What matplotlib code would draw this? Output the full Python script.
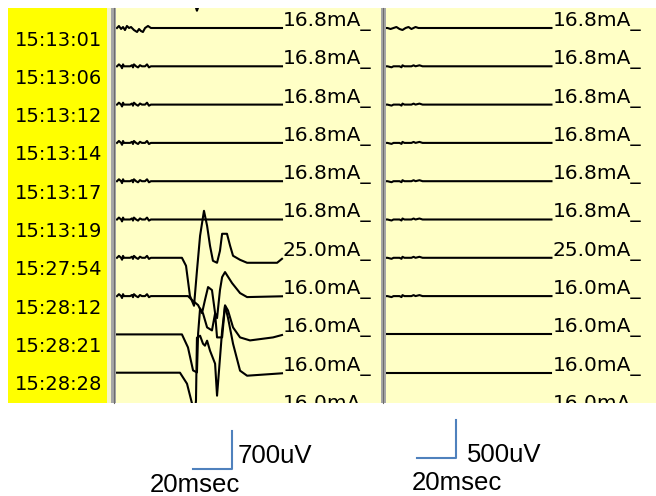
import matplotlib
matplotlib.use("Agg")
import matplotlib.pyplot as plt
from matplotlib.patches import Rectangle

W, H = 656, 496

# one row per sweep, top sweep sits mostly above the window
times = ["15:12:56", "15:13:01", "15:13:06", "15:13:12", "15:13:14", "15:13:17",
         "15:13:19", "15:27:54", "15:28:12", "15:28:21", "15:28:28"]
currents = ["16.8", "16.8", "16.8", "16.8", "16.8", "16.8", "16.8",
            "25.0", "16.0", "16.0", "16.0", "16.0"]

step_left = 700    # uV between sweeps, left channel
step_right = 500   # uV between sweeps, right channel
sweep_end = 85.1   # ms
label_t = 85.6     # ms

# stimulus artefact at sweep start (ms, uV)
wig_t = [0.5, 1.5, 2.6, 3.1, 3.6, 4.1, 7.2, 8.2, 8.7, 9.2, 10.3, 11.3, 12.3, 13.3, 14.9, 15.9, 16.9, 17.9, 19.0]
wig_v = [0, 35, 0, -35, 35, 0, 0, 20, -20, 35, 0, -20, 20, 0, 0, 35, -20, 0, 0]
wave_t = [0.5, 1.5, 2.6, 3.6, 4.6, 5.6, 6.7, 7.7, 9.2, 10.8, 11.8, 12.8, 13.8, 14.9, 16.4, 17.9, 19.0]
wave_v = [0, 37, -18, 18, -37, 37, 0, 18, -37, -73, -18, -55, -73, 0, 37, 0, 0]

wig_r_t = [1.0, 3.1, 4.1, 7.2, 8.2, 8.7, 9.7, 13.3, 14.4, 15.4, 17.4, 19.0]
wig_r_v = [0, -13, 0, 0, -13, 13, 0, 0, 13, 0, 13, 0]
wave_r_t = [1.0, 2.6, 4.1, 5.6, 7.2, 8.7, 10.3, 11.8, 13.3, 15.4, 16.9, 20.0]
wave_r_v = [0, -13, 0, 13, -13, -26, 0, 13, -13, 13, 0, 0]

# left channel responses (ms, uV from baseline)
resp0_t = [37.9, 40.5, 41.5, 42.6, 44.6]
resp0_v = [0, -274, -384, -274, 0]
resp7_t = [33.8, 35.9, 37.9, 40.0, 41.5, 43.1, 45.1, 46.7, 48.2, 49.7, 51.8, 53.3, 54.4, 56.9, 58.5, 60.0, 63.6, 67.2, 82.6]
resp7_v = [0, -146, -695, -877, -238, 402, 859, 585, 219, -55, -91, 128, 439, 439, 219, 37, -37, -91, -91]
resp8_t = [36.9, 39.0, 42.1, 44.1, 45.6, 47.2, 49.2, 50.8, 51.8, 53.3, 54.4, 55.9, 59.5, 63.6, 67.2]
resp8_v = [0, -73, -165, -311, -73, 165, 110, -311, -402, 110, 347, 439, 238, 55, -18]
resp9_t = [33.8, 36.9, 39.5, 41.5, 42.1, 43.1, 44.6, 46.7, 49.2, 50.8, 51.8, 54.4, 55.9, 57.4, 60.0, 63.6, 68.7, 80.5]
resp9_v = [0, -238, -658, -695, 18, 475, 384, 128, 73, 384, -55, -55, 530, 439, 128, -55, -110, -55]
resp10_t = [32.8, 36.4, 39.0, 40.0, 41.0, 41.5, 43.1, 44.6, 45.6, 46.7, 48.2, 50.8, 51.8, 52.8, 54.4, 55.9, 57.4, 60.0, 63.6, 67.2]
resp10_v = [0, -201, -567, -877, -512, 640, 676, 530, 494, 585, 402, 165, -420, 37, 768, 1225, 1005, 530, 37, -55]

left_start = {1: (wave_t, wave_v)}
for k in range(2, 9):
    left_start[k] = (wig_t, wig_v)
right_start = {1: (wave_r_t, wave_r_v)}
for k in range(2, 9):
    right_start[k] = (wig_r_t, wig_r_v)
left_resp = {0: (resp0_t, resp0_v), 7: (resp7_t, resp7_v), 8: (resp8_t, resp8_v),
             9: (resp9_t, resp9_v), 10: (resp10_t, resp10_v)}


def frac(x0, y0, x1, y1):
    return [x0 / W, 1 - y1 / H, (x1 - x0) / W, (y1 - y0) / H]


def sweep(start, resp):
    t, v = [0.5], [0]
    if start:
        t += start[0]
        v += start[1]
    if resp:
        t += resp[0]
        v += resp[1]
    t.append(sweep_end)
    v.append(v[-1] * 0.2)
    return t, v


fig = plt.figure(figsize=(W / 100, H / 100), dpi=100)
fig.patch.set_facecolor("white")

bg = fig.add_axes([0, 0, 1, 1])
bg.set_xlim(0, W)
bg.set_ylim(H, 0)
bg.axis("off")
# window frame: pale margin, gray splitter bars
bg.add_patch(Rectangle((107, 8), 4, 395, color="#F4F4C8", lw=0))
bg.add_patch(Rectangle((111, 8), 5, 395, color="#A6A6A6", lw=0))
bg.plot([113.5, 113.5], [8, 403], color="#6C6C6C", lw=0.8)
bg.add_patch(Rectangle((380.5, 8), 5, 395, color="#A6A6A6", lw=0))
bg.plot([383, 383], [8, 403], color="#6C6C6C", lw=0.8)

panel = "#FFFFC6"
axL = fig.add_axes(frac(116, 8, 380.5, 403))
axR = fig.add_axes(frac(385.5, 8, 656, 403))
axS = fig.add_axes(frac(8, 8, 107, 403), sharey=axL)

axL.set_xlim(0, 135.6)
axL.set_ylim(-(403 - 28) * step_left / 38.3, 20 * step_left / 38.3)
axR.set_xlim(0, 138.7)
axR.set_ylim(-(403 - 28) * step_right / 38.3, 20 * step_right / 38.3)
axS.set_xlim(0, 1)

for ax, c in ((axL, panel), (axR, panel), (axS, "#FFFF00")):
    ax.set_facecolor(c)
    ax.set_xticks([])
    ax.set_yticks([])
    for s in ax.spines.values():
        s.set_visible(False)

px_l = step_left / 38.3
px_r = step_right / 38.3
for k, cur in enumerate(currents):
    base_l = (1 - k) * step_left
    base_r = (1 - k) * step_right
    t, v = sweep(left_start.get(k), left_resp.get(k))
    axL.plot(t, [base_l + y for y in v], color="black", lw=1.5)
    t, v = sweep(right_start.get(k), None)
    axR.plot(t, [base_r + y for y in v], color="black", lw=1.5)
    if k == 0:
        continue  # its label lies above the window
    axL.text(label_t, base_l + 2 * px_l, cur + "mA_", fontsize=14.5, va="baseline",
             ha="left", clip_on=True)
    axR.text(label_t, base_r + 2 * px_r, cur + "mA_", fontsize=14.5, va="baseline",
             ha="left", clip_on=True)

for k, tm in enumerate(times):
    axS.text(0.07, (1 - k) * step_left - 12 * px_l, tm, fontsize=14, va="center",
             ha="left", clip_on=True)

# calibration bars: 20 ms by 700 uV / 500 uV
blue = "#4F81BD"
x0, y0 = 39.5, -(469 - 28) * px_l
axL.plot([x0, x0 + 20, x0 + 20], [y0, y0, y0 + 700], color=blue, lw=1.5, clip_on=False)
x0, y0 = 16.4, -(458 - 28) * px_r
axR.plot([x0, x0 + 20, x0 + 20], [y0, y0, y0 + 500], color=blue, lw=1.5, clip_on=False)

cal = dict(fontsize=18.5, family="Liberation Sans", va="baseline", ha="left")
bg.text(238, 463, "700uV", **cal)
bg.text(150, 492, "20msec", **cal)
bg.text(467, 462, "500uV", **cal)
bg.text(412, 490, "20msec", **cal)

fig.savefig("out.png", dpi=100, facecolor="white")
